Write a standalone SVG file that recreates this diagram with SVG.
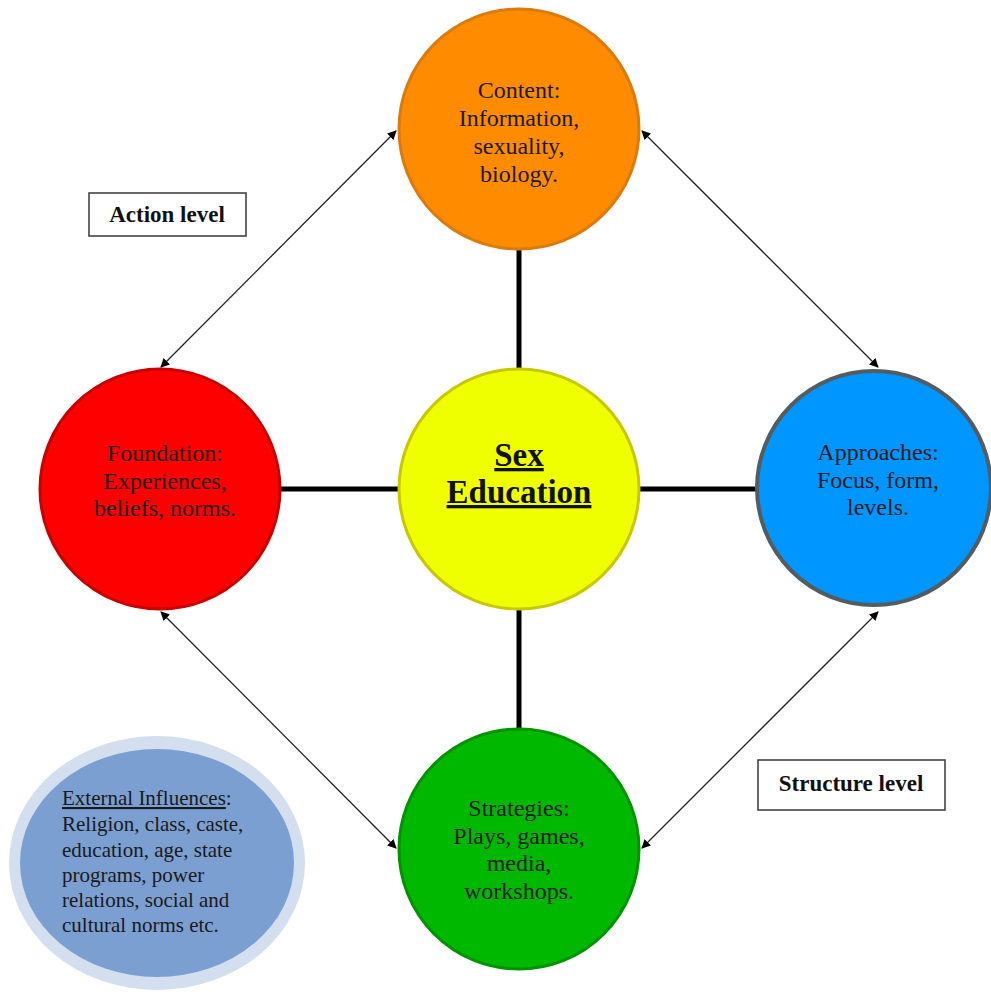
<svg xmlns="http://www.w3.org/2000/svg" width="991" height="995" viewBox="0 0 991 995">
<defs>
<marker id="ah" viewBox="0 0 10 10" refX="9" refY="5" markerWidth="9" markerHeight="9" markerUnits="userSpaceOnUse" orient="auto-start-reverse">
<path d="M0,0 L10,5 L0,10 z" fill="#000"/>
</marker>
<style>
.t{font-family:"Liberation Serif",serif;font-size:24px;fill:#1a1a1a;text-anchor:middle}
.ext{font-family:"Liberation Serif",serif;font-size:21px;fill:#1a1a1a}
.lbl{font-family:"Liberation Serif",serif;font-size:23px;font-weight:bold;fill:#111;text-anchor:middle}
.big{font-family:"Liberation Serif",serif;font-size:33px;font-weight:bold;fill:#111;text-anchor:middle;text-decoration:underline}
.box{fill:#fff;stroke:#444;stroke-width:1.6}
.thick{stroke:#000;stroke-width:5;fill:none}
.arr{stroke:#222;stroke-width:1.3;fill:none;marker-start:url(#ah);marker-end:url(#ah)}
</style>
</defs>
<rect width="991" height="995" fill="#fff"/>
<g id="connectors">
<line class="thick" x1="519" y1="250" x2="519" y2="369"/>
<line class="thick" x1="519" y1="609" x2="519" y2="730"/>
<line class="thick" x1="281" y1="489" x2="398" y2="489"/>
<line class="thick" x1="640" y1="489" x2="758" y2="489"/>
<line class="arr" x1="396" y1="131" x2="161" y2="367"/>
<line class="arr" x1="642" y1="131" x2="878" y2="367"/>
<line class="arr" x1="161" y1="612" x2="396" y2="848"/>
<line class="arr" x1="878" y1="612" x2="642" y2="848"/>
</g>
<g id="content">
<circle cx="519" cy="129" r="120" fill="#ff8c00" stroke="#dc7a0c" stroke-width="3"/>
<text class="t" x="519" y="98">Content:</text>
<text class="t" x="519" y="126">Information,</text>
<text class="t" x="519" y="154">sexuality,</text>
<text class="t" x="519" y="182">biology.</text>
</g>
<g id="sex-education">
<circle cx="519" cy="489" r="120" fill="#f0ff00" stroke="#c8c800" stroke-width="3"/>
<text class="big" x="519" y="466">Sex</text>
<text class="big" x="519" y="503">Education</text>
</g>
<g id="foundation">
<circle cx="160" cy="489" r="120" fill="#ff0000" stroke="#c80000" stroke-width="3"/>
<text class="t" x="165" y="461">Foundation:</text>
<text class="t" x="165" y="489">Experiences,</text>
<text class="t" x="165" y="516">beliefs, norms.</text>
</g>
<g id="approaches">
<circle cx="874" cy="488" r="117" fill="#0096ff" stroke="#535c60" stroke-width="4"/>
<text class="t" x="878" y="460">Approaches:</text>
<text class="t" x="878" y="488">Focus, form,</text>
<text class="t" x="878" y="515">levels.</text>
</g>
<g id="strategies">
<circle cx="519" cy="849" r="120" fill="#00b800" stroke="#009400" stroke-width="3"/>
<text class="t" x="519" y="816">Strategies:</text>
<text class="t" x="519" y="844">Plays, games,</text>
<text class="t" x="519" y="871">media,</text>
<text class="t" x="519" y="899">workshops.</text>
</g>
<g id="external-influences">
<ellipse cx="157" cy="863" rx="148" ry="127" fill="#d3deef"/>
<ellipse cx="157" cy="863" rx="137" ry="114" fill="#7b9fd1"/>
<text class="ext" x="62" y="805"><tspan text-decoration="underline">External Influences</tspan>:</text>
<text class="ext" x="62" y="831">Religion, class, caste,</text>
<text class="ext" x="62" y="857">education, age, state</text>
<text class="ext" x="62" y="882">programs, power</text>
<text class="ext" x="62" y="907">relations, social and</text>
<text class="ext" x="62" y="932">cultural norms etc.</text>
</g>
<g id="action-level">
<rect class="box" x="89" y="193" width="157" height="43"/>
<text class="lbl" x="167" y="222">Action level</text>
</g>
<g id="structure-level">
<rect class="box" x="758" y="760" width="187" height="50"/>
<text class="lbl" x="851" y="791">Structure level</text>
</g>
</svg>
